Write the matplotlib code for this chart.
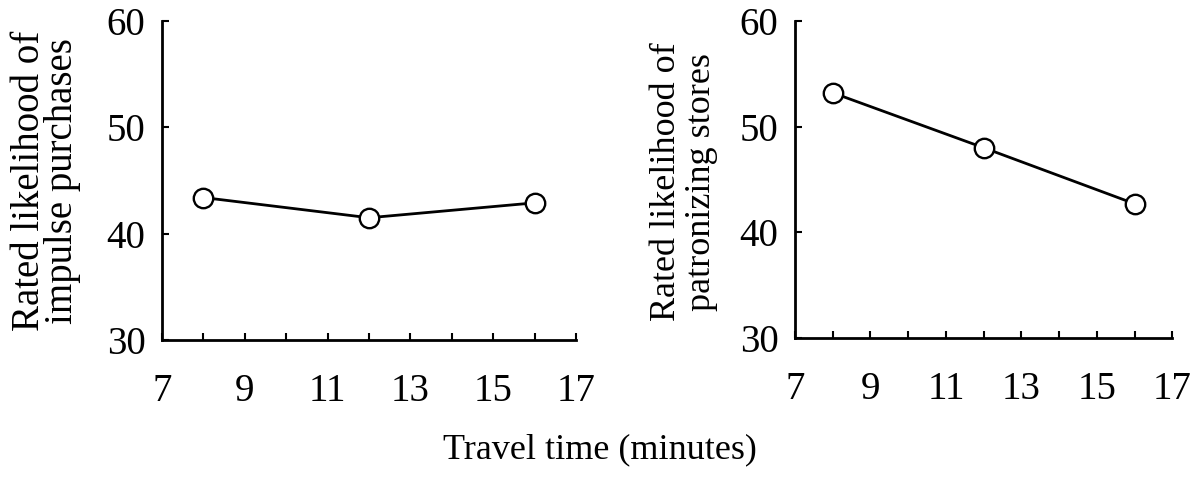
import matplotlib
matplotlib.use('Agg')
import matplotlib.pyplot as plt
import numpy as np

plt.rcParams['font.family'] = ['Liberation Serif', 'DejaVu Serif']

travel_time = [8, 12, 16]
impulse = [43.4, 41.5, 42.9]
patronize = [53.2, 48.0, 42.7]

x_ticks = [7, 9, 11, 13, 15, 17]
y_ticks = [30, 40, 50, 60]

fig = plt.figure(figsize=(12, 4.84), dpi=100)
ax1 = fig.add_axes([0.135, 0.2975, 0.345, 0.659])
ax2 = fig.add_axes([0.6625, 0.3017, 0.3145, 0.655])


def style(ax, y):
    ax.plot(travel_time, y, color='black', lw=2.0, marker='o', ms=14,
            mfc='white', mec='black', mew=1.7, clip_on=False, zorder=3)
    ax.set_xlim(7, 17)
    ax.set_ylim(30, 60)
    ax.set_xticks(x_ticks)
    ax.set_xticks(np.arange(7, 18), minor=True)
    ax.set_yticks(y_ticks)
    ax.spines['top'].set_visible(False)
    ax.spines['right'].set_visible(False)
    ax.spines['left'].set_linewidth(2)
    ax.spines['bottom'].set_linewidth(2)
    ax.tick_params(direction='in', length=5, width=1.5, labelsize=28)
    ax.tick_params(axis='x', which='both', pad=24)
    ax.tick_params(axis='x', which='minor', direction='in', length=5, width=1.5)
    ax.tick_params(axis='y', pad=12)


style(ax1, impulse)
style(ax2, patronize)

fig.text(0.0383, 0.626, 'Rated likelihood of\nimpulse purchases', rotation=90,
         ha='center', va='center', fontsize=28, linespacing=0.87)
fig.text(0.57, 0.624, 'Rated likelihood of\npatronizing stores', rotation=90,
         ha='center', va='center', fontsize=26, linespacing=1.1)

fig.text(0.5, 0.0702, 'Travel time (minutes)', ha='center', va='center', fontsize=26)

fig.savefig('out.png', dpi=100)
